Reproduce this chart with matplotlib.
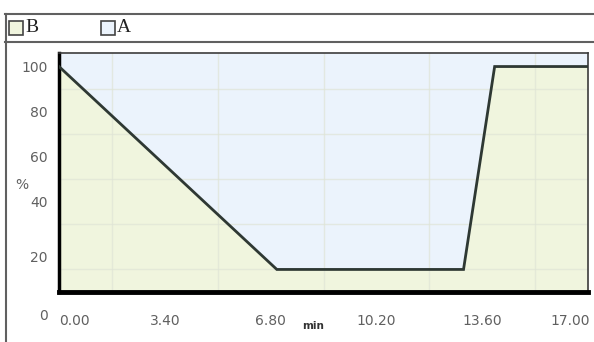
import numpy as np
import matplotlib.pyplot as plt
from matplotlib.patches import Rectangle
from matplotlib.lines import Line2D
import matplotlib.transforms as mtransforms

# gradient program: time (min) vs %B
tiempo = [0.0, 7.0, 13.0, 14.0, 17.0]
pct_b = [100, 10, 10, 100, 100]

xticks = [0.0, 3.4, 6.8, 10.2, 13.6, 17.0]
yticks = [0, 20, 40, 60, 80, 100]

COLOR_B = '#f0f5de'
COLOR_A = '#ebf3fc'
GRIS = '#606060'

fig = plt.figure(figsize=(5.94, 3.42), dpi=100)
fig.patch.set_facecolor('white')

W, H = 594, 342
ax = fig.add_axes([59 / W, 1 - 292 / H, (588 - 59) / W, (292 - 53) / H])
ax.set_xlim(0, 17)
ax.set_ylim(0, 106)

# regiones A (arriba) y B (abajo)
ax.fill_between(tiempo, 0, pct_b, color=COLOR_B, lw=0, zorder=1)
ax.fill_between(tiempo, pct_b, 106, color=COLOR_A, lw=0, zorder=1)
ax.plot(tiempo, pct_b, color='#2e3833', lw=2, zorder=4, solid_joinstyle='miter')

# rejilla
ax.set_xticks(np.arange(0, 17.01, 1.7), minor=True)
ax.set_yticks(np.arange(0, 106, 10), minor=True)
ax.grid(True, which='minor', color='#dfe4d6', lw=1, alpha=0.7, zorder=2)
ax.tick_params(which='minor', length=0)

ax.set_xticks(xticks)
ax.set_xticklabels([f'{t:.2f}' for t in xticks])
ax.set_yticks(yticks)
ax.set_yticklabels([str(v) for v in yticks])
ax.tick_params(which='major', length=0, labelsize=10, labelcolor=GRIS)
ax.tick_params(axis='x', pad=16)
ax.tick_params(axis='y', pad=8)

# ajustar etiquetas del eje y
for lab, v in zip(ax.get_yticklabels(), yticks):
    if v == 0:
        lab.set_transform(lab.get_transform() + mtransforms.ScaledTranslation(0, -0.22, fig.dpi_scale_trans))
    elif v == 20:
        lab.set_transform(lab.get_transform() + mtransforms.ScaledTranslation(0, -0.1, fig.dpi_scale_trans))

# primera etiqueta x alineada a la izquierda, ultima a la derecha
xlabs = ax.get_xticklabels()
xlabs[0].set_horizontalalignment('left')
xlabs[-1].set_horizontalalignment('right')
xlabs[-1].set_transform(xlabs[-1].get_transform()
                        + mtransforms.ScaledTranslation(0.02, 0, fig.dpi_scale_trans))

for s in ['top', 'right']:
    ax.spines[s].set_color('#3c3c3c')
    ax.spines[s].set_linewidth(1.2)
ax.spines['left'].set_color('black')
ax.spines['left'].set_linewidth(2.5)
ax.spines['bottom'].set_color('black')
ax.spines['bottom'].set_linewidth(3.5)

fig.text(22 / W, 1 - 185 / H, '%', fontsize=10, color=GRIS, ha='center', va='center')
fig.text(313 / W, 1 - 326 / H, 'min', fontsize=7.5, color='#333333', ha='center', va='center',
         fontweight='bold')

# marco y leyenda
for y in [14, 42]:
    fig.add_artist(Line2D([5 / W, 1], [1 - y / H, 1 - y / H], color=GRIS, lw=1.5))
fig.add_artist(Line2D([6 / W, 6 / W], [1 - 14 / H, 0], color=GRIS, lw=1.5))

for x0, nombre, col in [(9, 'B', COLOR_B), (101, 'A', COLOR_A)]:
    fig.add_artist(Rectangle((x0 / W, 1 - 35 / H), 14 / W, 14 / H, facecolor=col,
                             edgecolor='#444444', lw=1.2))
    fig.text((x0 + 16) / W, 1 - 27 / H, nombre, fontsize=14, family='Liberation Serif',
             color='#222222', va='center', ha='left')

fig.savefig('out.png', dpi=100)
